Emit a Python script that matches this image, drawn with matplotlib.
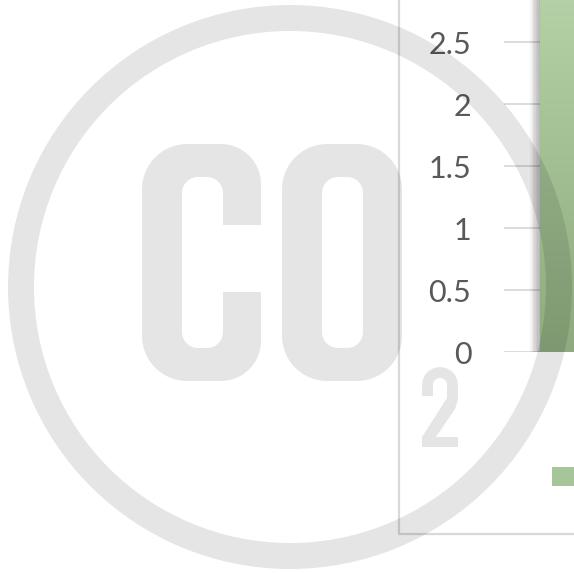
import numpy as np
import matplotlib
matplotlib.use('Agg')
import matplotlib.pyplot as plt
from matplotlib.path import Path
from matplotlib.patches import PathPatch, Annulus
import matplotlib.patheffects as pe

# chart data (only the first bar is visible in the crop)
categories = ['']
values = [3.1]
series_name = 'CO2'
y_ticks = [0, 0.5, 1, 1.5, 2, 2.5]
y_labels = ['0', '0.5', '1', '1.5', '2', '2.5']

W, H = 574, 573
TXT = '#595959'
GRID = '#d9d9d9'

plt.rcParams['font.family'] = ['Lato', 'DejaVu Sans']

fig = plt.figure(figsize=(W / 100, H / 100), dpi=100)


def fpos(x0, y_top, x1, y_bot):
    # pixel box (image coords, y down) -> figure fraction
    return [x0 / W, 1 - y_bot / H, (x1 - x0) / W, (y_bot - y_top) / H]


# plot area: 0 at y=352 px, 124 px per unit, axis starts at x=504
ax = fig.add_axes(fpos(504, 352 - 3.5 * 124, 624, 352))
ax.set_facecolor('none')
x = np.arange(len(categories))
bars = ax.bar(x, values, width=0.4, color='#a3c293', zorder=3, label=series_name)
ax.set_yticks(y_ticks)
ax.set_yticklabels(y_labels)
ax.set_xticks([])
ax.tick_params(axis='y', length=0, pad=23.5, labelsize=22, labelcolor=TXT)
ax.grid(axis='y', color=GRID, linewidth=1.3, zorder=0)
for s in ax.spines.values():
    s.set_visible(False)

leg = ax.legend(loc='center left', bbox_to_anchor=(552 / W, 1 - 478 / H),
                bbox_transform=fig.transFigure, frameon=False, fontsize=22,
                handlelength=0.8, handleheight=0.6, borderpad=0, borderaxespad=0,
                labelcolor=TXT)
for h in leg.legend_handles:
    h.set_facecolor('#a6c598')

# gradient fill + soft left shadow on the bars
grad = np.linspace(0, 1, 256).reshape(-1, 1)
cmap = matplotlib.colors.LinearSegmentedColormap.from_list('g', ['#8dab7e', '#b7d4aa'])
for b in bars:
    b.set_path_effects([pe.SimplePatchShadow(offset=(-k, -0.3), shadow_rgbFace='k', alpha=0.045)
                        for k in range(1, 8)] + [pe.Normal()])
    x0, y0 = b.get_x(), b.get_y()
    im = ax.imshow(grad, extent=(x0, x0 + b.get_width(), y0, y0 + b.get_height()),
                   origin='lower', cmap=cmap, aspect='auto', zorder=4)
    im.set_clip_path(b)
ax.set_xlim(-0.5, len(categories) - 0.5)
ax.set_ylim(0, 3.5)

# overlay in pixel coordinates: chart border + CO2 watermark
ov = fig.add_axes([0, 0, 1, 1], zorder=5)
ov.set_xlim(0, W)
ov.set_ylim(H, 0)
ov.axis('off')

ov.plot([399, 399, W + 5], [-5, 534, 534], color=GRID, linewidth=1.6, zorder=1)


def arc(cx, cy, r, a0, a1, n=12):
    a = np.radians(np.linspace(a0, a1, n))
    return list(zip(cx + r * np.cos(a), cy + r * np.sin(a)))


def rrect(x0, y0, x1, y1, r, reverse=False):
    pts = (arc(x1 - r, y0 + r, r, 0, -90) + arc(x0 + r, y0 + r, r, -90, -180) +
           arc(x0 + r, y1 - r, r, -180, -270) + arc(x1 - r, y1 - r, r, -270, -360))
    return pts[::-1] if reverse else pts


def poly_path(rings):
    verts, codes = [], []
    for pts in rings:
        verts += pts + [pts[0]]
        codes += [Path.MOVETO] + [Path.LINETO] * (len(pts) - 1) + [Path.CLOSEPOLY]
    return Path(verts, codes)


WM = dict(facecolor='k', edgecolor='none', alpha=0.1, zorder=2)

ov.add_patch(Annulus((290, 287), 282, 26, **WM))

# letter C
R, r = 45, 16
c_pts = ([(261, 225)] + arc(261 - 40, 144 + 40, 40, 0, -90) + arc(142 + R, 144 + R, R, -90, -180) +
         arc(142 + R, 381 - R, R, -180, -270) + arc(261 - 40, 381 - 40, 40, -270, -360) +
         [(261, 292), (223, 292)] + arc(223 - r, 348 - r, r, 0, 90) + arc(182 + r, 348 - r, r, 90, 180) +
         arc(182 + r, 177 + r, r, 180, 270) + arc(223 - r, 177 + r, r, 270, 360) + [(223, 225)])
ov.add_patch(PathPatch(poly_path([c_pts]), **WM))

# letter O
o_path = poly_path([rrect(282, 144, 402, 381, 45), rrect(322, 177, 363, 348, 16, reverse=True)])
ov.add_patch(PathPatch(o_path, **WM))

# subscript 2
two = ([(422, 447), (458, 447), (458, 437), (436, 437), (455, 409), (458, 400)] +
       arc(440, 385, 18, 0, -180) + [(422, 396), (433, 396)] +
       arc(440, 385, 7, 180, 360) + [(447, 398), (422, 437)])
ov.add_patch(PathPatch(poly_path([two]), **WM))

fig.savefig('out.png', dpi=100)
